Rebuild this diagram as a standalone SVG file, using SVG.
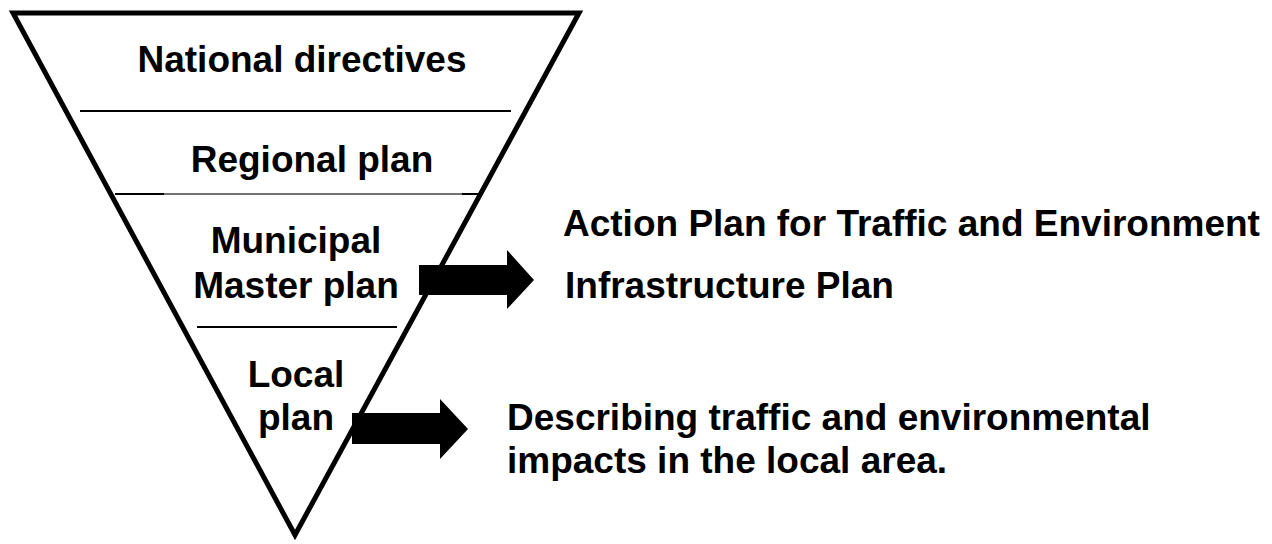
<svg xmlns="http://www.w3.org/2000/svg" width="1272" height="544" viewBox="0 0 1272 544">
<style>
text{font-family:"Liberation Sans",Arial,sans-serif;font-weight:bold;font-size:37px;fill:#000}
.c{text-anchor:middle}
.sep{stroke:#000;stroke-width:2}
.arrow{fill:#000;stroke:none}
</style>
<rect width="1272" height="544" fill="#fff"/>
<g id="funnel">
<path d="M13,13 L579,13 L295,535 Z" fill="#fff" stroke="#000" stroke-width="5" stroke-linejoin="miter"/>
<line class="sep" x1="80" y1="111" x2="511" y2="111"/>
<line class="sep" x1="115" y1="194" x2="164" y2="194"/>
<line x1="164" y1="194" x2="462" y2="194" stroke="#444" stroke-width="1.5"/>
<line class="sep" x1="462" y1="194" x2="478" y2="194"/>
<line class="sep" x1="197" y1="327" x2="397" y2="327"/>
</g>
<g id="national"><text class="c" x="302" y="72">National directives</text></g>
<g id="regional"><text class="c" x="312" y="172">Regional plan</text></g>
<g id="municipal"><text class="c" x="296" y="253">Municipal</text><text class="c" x="296" y="298">Master plan</text></g>
<g id="local"><text class="c" x="296" y="387">Local</text><text class="c" x="296" y="430">plan</text></g>
<g id="connectors">
<path class="arrow" d="M419,265 L507,265 L507,250 L534,280 L507,309 L507,295 L419,295 Z"/>
<path class="arrow" d="M352,413 L440,413 L440,399 L468,429 L440,459 L440,444 L352,444 Z"/>
</g>
<g id="action-plans"><text x="563" y="236">Action Plan for Traffic and Environment</text><text x="565" y="298">Infrastructure Plan</text></g>
<g id="describing"><text x="507" y="430">Describing traffic and environmental</text><text x="507" y="473">impacts in the local area.</text></g>
</svg>
